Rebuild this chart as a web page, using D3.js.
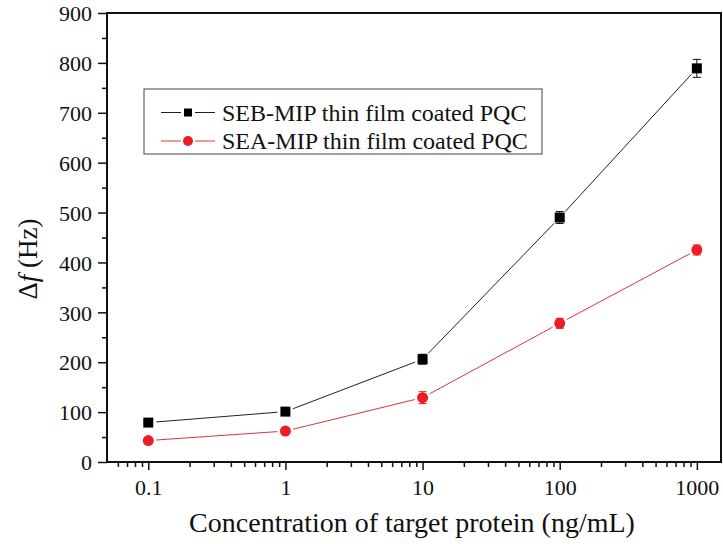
<!DOCTYPE html>
<html>
<head>
<meta charset="utf-8">
<script src="https://cdn.jsdelivr.net/npm/d3@7/dist/d3.min.js"></script>
<style>
  body { margin: 0; background: #fff; }
</style>
</head>
<body>
<svg id="chart" width="723" height="544"></svg>
<script>
// concentrations (ng/mL)
const conc= [0.1, 1, 10, 100, 1000];
// frequency shift (Hz)
const seb= [79, 101, 206, 490, 789];
const sebErr= [4, 4, 10, 12, 18];
const sea= [43, 62, 129, 278, 425];
const seaErr= [4, 4, 12, 10, 10];

const xTicks= [0.1, 1, 10, 100, 1000];
const xTickLabels= ['0.1', '1', '10', '100', '1000'];
const yTicks= [0, 100, 200, 300, 400, 500, 600, 700, 800, 900];

const seriesNames= ['SEB-MIP thin film coated PQC', 'SEA-MIP thin film coated PQC'];

const FONT= '"Liberation Serif", "Times New Roman", serif';

const svg= d3.select('#chart');
const L= 107, R= 721, T= 13, B= 462;

const x= d3.scaleLog().domain([0.05, 1500]).range([L, R]);
const y= d3.scaleLinear().domain([0, 900]).range([B, T]);

// minor x ticks: 2..9 per decade inside the domain
const xMinor= [];
[0.01, 0.1, 1, 10, 100].forEach(d => {
  for (let k= 2; k <= 9; k++) {
    const v= d*k;
    if (v > 0.05 && v < 1500 && !xTicks.includes(v)) xMinor.push(v);
  }
});
const yMinor= d3.range(50, 900, 100);

// axes
const xAxis= svg.append('g').attr('transform', `translate(0,${B})`)
  .call(d3.axisBottom(x).tickValues(xTicks).tickFormat((d, i) => xTickLabels[i]).tickSize(8).tickPadding(6));
svg.append('g').attr('transform', `translate(0,${B})`)
  .call(d3.axisBottom(x).tickValues(xMinor).tickFormat('').tickSize(5))
  .call(g => g.select('.domain').remove());

const yAxis= svg.append('g').attr('transform', `translate(${L},0)`)
  .call(d3.axisLeft(y).tickValues(yTicks).tickSize(9).tickPadding(6));
svg.append('g').attr('transform', `translate(${L},0)`)
  .call(d3.axisLeft(y).tickValues(yMinor).tickFormat('').tickSize(5))
  .call(g => g.select('.domain').remove());

svg.selectAll('.tick line').attr('stroke', '#111').attr('stroke-width', 1.5);
svg.selectAll('.tick text').style('font-size', '22px');
xAxis.selectAll('.tick text').attr('dy', '0.85em');
yAxis.selectAll('.tick text').attr('dy', '0.35em');
svg.selectAll('.domain').remove();

// frame
svg.append('rect')
  .attr('x', L).attr('y', T).attr('width', R-L).attr('height', B-T)
  .attr('fill', 'none').attr('stroke', '#111').attr('stroke-width', 2);

// axis titles
svg.append('text')
  .attr('x', 412).attr('y', 532)
  .attr('text-anchor', 'middle').style('font-size', '28px')
  .text('Concentration of target protein (ng/mL)');

const yt= svg.append('text')
  .attr('transform', 'translate(37,259) rotate(-90)')
  .attr('text-anchor', 'middle').style('font-size', '27px');
yt.append('tspan').text('Δ');
yt.append('tspan').style('font-style', 'italic').text('f');
yt.append('tspan').text(' (Hz)');

// series
const series= [
  {vals: seb, err: sebErr, line: '#222', fill: '#000', shape: 'square'},
  {vals: sea, err: seaErr, line: '#d9363a', fill: '#ee1c24', shape: 'circle'}
];

const gap= 8;
series.forEach(s => {
  const pts= conc.map((c, i) => [x(c), y(s.vals[i])]);
  const g= svg.append('g');

  // line segments with gaps around symbols
  d3.pairs(pts).forEach(([a, b]) => {
    const dx= b[0]-a[0], dy= b[1]-a[1];
    const len= Math.hypot(dx, dy);
    const ux= dx/len, uy= dy/len;
    g.append('line')
      .attr('x1', a[0]+ux*gap).attr('y1', a[1]+uy*gap)
      .attr('x2', b[0]-ux*gap).attr('y2', b[1]-uy*gap)
      .attr('stroke', s.line).attr('stroke-width', 1);
  });

  // error bars
  conc.forEach((c, i) => {
    const cx= x(c), y0= y(s.vals[i]-s.err[i]), y1= y(s.vals[i]+s.err[i]);
    const col= s.shape === 'square' ? '#111' : '#ee1c24';
    g.append('line').attr('x1', cx).attr('x2', cx).attr('y1', y0).attr('y2', y1)
      .attr('stroke', col).attr('stroke-width', 1);
    [y0, y1].forEach(yy => g.append('line')
      .attr('x1', cx-4).attr('x2', cx+4).attr('y1', yy).attr('y2', yy)
      .attr('stroke', col).attr('stroke-width', 1));
  });

  // symbols
  if (s.shape === 'square') {
    g.selectAll('rect').data(pts).join('rect')
      .attr('x', d => d[0]-5).attr('y', d => d[1]-5)
      .attr('width', 10).attr('height', 10).attr('fill', s.fill);
  } else {
    g.selectAll('circle').data(pts).join('circle')
      .attr('cx', d => d[0]).attr('cy', d => d[1]).attr('r', 5.5).attr('fill', s.fill);
  }
});

// legend
const lg= svg.append('g');
lg.append('rect')
  .attr('x', 144).attr('y', 89).attr('width', 398).attr('height', 65)
  .attr('fill', '#fff').attr('stroke', '#444').attr('stroke-width', 1);
seriesNames.forEach((name, i) => {
  const s= series[i];
  const yy= 112.5 + i*28.5;
  lg.append('line').attr('x1', 161).attr('x2', 181).attr('y1', yy).attr('y2', yy)
    .attr('stroke', s.line).attr('stroke-width', 1);
  lg.append('line').attr('x1', 195).attr('x2', 215).attr('y1', yy).attr('y2', yy)
    .attr('stroke', s.line).attr('stroke-width', 1);
  if (s.shape === 'square') {
    lg.append('rect').attr('x', 184).attr('y', yy-4).attr('width', 8).attr('height', 8).attr('fill', s.fill);
  } else {
    lg.append('circle').attr('cx', 188).attr('cy', yy).attr('r', 5).attr('fill', s.fill);
  }
  lg.append('text').attr('x', 222).attr('y', yy).attr('dy', '0.35em')
    .style('font-size', '24px').text(name);
});

// serif font on every text, set inline so it wins over the axis defaults
svg.selectAll('text').style('font-family', FONT).style('fill', '#111');
</script>
</body>
</html>
